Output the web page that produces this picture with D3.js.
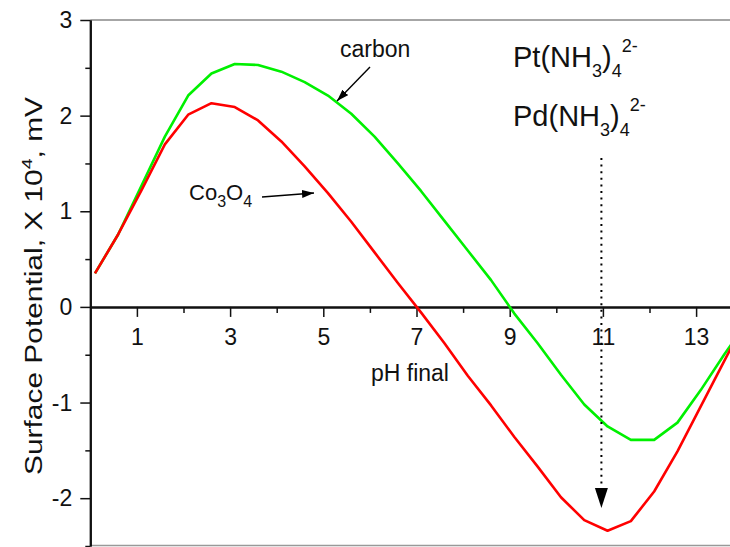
<!DOCTYPE html>
<html>
<head>
<meta charset="utf-8">
<script src="https://cdn.jsdelivr.net/npm/d3@7"></script>
<style>
  body { margin: 0; background: #fff; }
  svg { display: block; font-family: "Liberation Sans", Arial, sans-serif; }
</style>
</head>
<body>
<svg width="730" height="547"></svg>
<script>
// data

var pH = [0.1, 0.6, 1.1, 1.6, 2.1, 2.6, 3.1, 3.6, 4.1, 4.6, 5.1, 5.6, 6.1, 6.6, 7.1,
          7.6, 8.1, 8.6, 9.1, 9.6, 10.1, 10.6, 11.1, 11.6, 12.1, 12.6, 13.1, 13.6, 14.1];

var carbon = [0.35, 0.76, 1.27, 1.78, 2.21, 2.44, 2.54, 2.53, 2.46, 2.35, 2.21, 2.02, 1.78, 1.50, 1.21,
              0.90, 0.59, 0.28, -0.07, -0.38, -0.71, -1.02, -1.25, -1.39, -1.39, -1.21, -0.87, -0.50, -0.15];

var co3o4 = [0.35, 0.76, 1.22, 1.70, 2.01, 2.13, 2.09, 1.95, 1.73, 1.47, 1.19, 0.89, 0.57, 0.25, -0.06,
             -0.38, -0.72, -1.03, -1.36, -1.67, -1.99, -2.23, -2.34, -2.24, -1.93, -1.51, -1.04, -0.57, -0.10];

var xMajor = [1, 3, 5, 7, 9, 11, 13];
var xMinor = [2, 4, 6, 8, 10, 12, 14];
var yMajor = [-2, -1, 0, 1, 2, 3];
var yMinor = [-2.5, -1.5, -0.5, 0.5, 1.5, 2.5];

var arrowPH = 11;

var svg = d3.select("svg");

var x = d3.scaleLinear().domain([0, 14]).range([90.3, 742.7]);
var y = d3.scaleLinear().domain([-2.5, 3]).range([546, 20]);

svg.append("defs").append("marker")
    .attr("id", "head")
    .attr("viewBox", "0 0 12 8")
    .attr("refX", 12).attr("refY", 4)
    .attr("markerWidth", 12).attr("markerHeight", 8)
    .attr("markerUnits", "userSpaceOnUse")
    .attr("orient", "auto")
  .append("path")
    .attr("d", "M0,0L12,4L0,8Z")
    .attr("fill", "#000");

// frame lines top / bottom
svg.append("line")
    .attr("x1", x(0)).attr("x2", 730)
    .attr("y1", y(3)).attr("y2", y(3))
    .attr("stroke", "#888").attr("stroke-width", 1.5);
svg.append("line")
    .attr("x1", x(0)).attr("x2", 730)
    .attr("y1", 545.5).attr("y2", 545.5)
    .attr("stroke", "#999").attr("stroke-width", 1.5);

// y axis
var yAxis = svg.append("g")
    .attr("transform", "translate(" + x(0) + ",0)")
    .call(d3.axisLeft(y).tickValues(yMajor).tickSize(10).tickPadding(8).tickSizeOuter(0));
svg.append("g")
    .attr("transform", "translate(" + x(0) + ",0)")
    .call(d3.axisLeft(y).tickValues(yMinor).tickSize(5).tickFormat("").tickSizeOuter(0));

// x axis sits on zero
var xAxis = svg.append("g")
    .attr("transform", "translate(0," + y(0) + ")")
    .call(d3.axisBottom(x).tickValues(xMajor).tickSize(10).tickPadding(12).tickSizeOuter(0));
svg.append("g")
    .attr("transform", "translate(0," + y(0) + ")")
    .call(d3.axisBottom(x).tickValues(xMinor).tickSize(6).tickFormat("").tickSizeOuter(0));

svg.selectAll(".domain").attr("stroke", "#111").attr("stroke-width", 2);
svg.selectAll(".tick line").attr("stroke", "#111").attr("stroke-width", 1.5);
svg.selectAll(".tick text")
    .attr("font-family", "'Liberation Sans', Arial, sans-serif")
    .attr("font-size", 23)
    .attr("fill", "#111");
yAxis.selectAll(".tick text").attr("dy", "0.33em")
    .text(function(d) { return d < 0 ? "-" + Math.abs(d) : d; });

// curves
var line = d3.line()
    .x(function(d) { return x(d[0]); })
    .y(function(d) { return y(d[1]); });

svg.append("path")
    .datum(d3.zip(pH, carbon))
    .attr("d", line)
    .attr("fill", "none")
    .attr("stroke", "#00f000")
    .attr("stroke-width", 2.6)
    .attr("stroke-linejoin", "round");

svg.append("path")
    .datum(d3.zip(pH, co3o4))
    .attr("d", line)
    .attr("fill", "none")
    .attr("stroke", "#ff0000")
    .attr("stroke-width", 2.6)
    .attr("stroke-linejoin", "round");

// dotted arrow at pH 11
svg.append("line")
    .attr("x1", x(arrowPH) - 1.5).attr("x2", x(arrowPH) - 1.5)
    .attr("y1", 158).attr("y2", 490)
    .attr("stroke", "#000").attr("stroke-width", 2)
    .attr("stroke-dasharray", "2,4.6");
svg.append("path")
    .attr("d", "M" + (x(arrowPH) - 8) + ",488L" + (x(arrowPH) + 5) + ",488L" + (x(arrowPH) - 1.5) + ",508Z")
    .attr("fill", "#000");

// labels
svg.append("text")
    .attr("transform", "translate(42,286) rotate(-90)")
    .attr("text-anchor", "middle")
    .attr("font-size", 23)
    .attr("textLength", 378)
    .attr("lengthAdjust", "spacingAndGlyphs")
    .attr("fill", "#111")
    .call(function(t) {
      t.append("tspan").text("Surface Potential, X 10");
      t.append("tspan").attr("dy", -10).attr("font-size", 15).text("4");
      t.append("tspan").attr("dy", 10).text(", mV");
    });

svg.append("text")
    .attr("x", 410).attr("y", 381)
    .attr("text-anchor", "middle")
    .attr("font-size", 23)
    .attr("fill", "#111")
    .text("pH final");

svg.append("text")
    .attr("x", 340).attr("y", 57)
    .attr("font-size", 23)
    .attr("fill", "#111")
    .text("carbon");
svg.append("line")
    .attr("x1", 370).attr("y1", 67)
    .attr("x2", 337).attr("y2", 101)
    .attr("stroke", "#000").attr("stroke-width", 1.4)
    .attr("marker-end", "url(#head)");

svg.append("text")
    .attr("x", 189).attr("y", 200)
    .attr("font-size", 22)
    .attr("fill", "#111")
    .call(function(t) {
      t.append("tspan").text("Co");
      t.append("tspan").attr("dy", 7).attr("font-size", 16).text("3");
      t.append("tspan").attr("dy", -7).text("O");
      t.append("tspan").attr("dy", 7).attr("font-size", 16).text("4");
    });
svg.append("line")
    .attr("x1", 262).attr("y1", 197)
    .attr("x2", 314).attr("y2", 193)
    .attr("stroke", "#000").attr("stroke-width", 1.4)
    .attr("marker-end", "url(#head)");

var ions = ["Pt", "Pd"];
var ionBase = [67, 126];
ions.forEach(function(m, i) {
  svg.append("text")
      .attr("x", 513).attr("y", ionBase[i])
      .attr("font-size", 29)
      .attr("fill", "#111")
      .call(function(t) {
        t.append("tspan").text(m + "(NH");
        t.append("tspan").attr("dy", 10).attr("font-size", 18).text("3");
        t.append("tspan").attr("dy", -10).text(")");
        t.append("tspan").attr("dy", 10).attr("font-size", 18).text("4");
        t.append("tspan").attr("dy", -25).attr("font-size", 18).text("2-");
      });
});
</script>
</body>
</html>
